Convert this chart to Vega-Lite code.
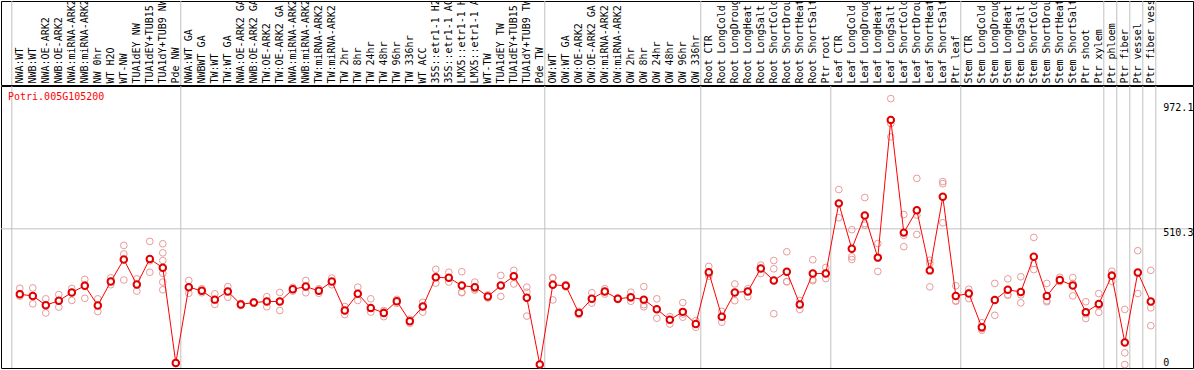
{
  "$schema": "https://vega.github.io/schema/vega-lite/v6.json",
  "background": "white",
  "padding": 0,
  "spacing": -2,
  "config": {"view": {"stroke": "black", "strokeWidth": 1}, "font": "DejaVu Sans Mono"},
  "datasets": {
    "means": [
      {"sample": "NWA:WT", "value": 264}, {"sample": "NWB:WT", "value": 258}, {"sample": "NWA:OE-ARK2", "value": 223}, {"sample": "NWB:OE-ARK2", "value": 240},
      {"sample": "NWA:miRNA-ARK2", "value": 271}, {"sample": "NWB:miRNA-ARK2", "value": 296}, {"sample": "NW 0hr", "value": 222}, {"sample": "WT H2O", "value": 312},
      {"sample": "WT-NW", "value": 395}, {"sample": "TUA1dEY NW", "value": 301}, {"sample": "TUA1dEY+TUB15 NW", "value": 397}, {"sample": "TUA1dY+TUB9 NW", "value": 364},
      {"sample": "Pde NW", "value": 6}, {"sample": "NWA:WT GA", "value": 291}, {"sample": "NWBWT GA", "value": 277}, {"sample": "TW:WT", "value": 244},
      {"sample": "TW:WT GA", "value": 275}, {"sample": "NWA:OE-ARK2 GA", "value": 226}, {"sample": "NWB:OE-ARK2 GA", "value": 233}, {"sample": "TW:OE-ARK2", "value": 237},
      {"sample": "TW:OE-ARK2 GA", "value": 237}, {"sample": "NWA:miRNA-ARK2 GA", "value": 283}, {"sample": "NWB:miRNA-ARK2 GA", "value": 293}, {"sample": "TW:miRNA-ARK2", "value": 277},
      {"sample": "TW:miRNA-ARK2 GA", "value": 312}, {"sample": "TW 2hr", "value": 203}, {"sample": "TW 8hr", "value": 266}, {"sample": "TW 24hr", "value": 213},
      {"sample": "TW 48hr", "value": 194}, {"sample": "TW 96hr", "value": 238}, {"sample": "TW 336hr", "value": 163}, {"sample": "WT ACC", "value": 218},
      {"sample": "35S::etr1-1 H2O", "value": 328}, {"sample": "35S::etr1-1 ACC", "value": 326}, {"sample": "LMX5::etr1-1 H2O", "value": 297}, {"sample": "LMX5::etr1-1 ACC", "value": 291},
      {"sample": "WT-TW", "value": 256}, {"sample": "TUA1dEY TW", "value": 297}, {"sample": "TUA1dEY+TUB15 TW", "value": 332}, {"sample": "TUA1dY+TUB9 TW", "value": 251},
      {"sample": "Pde TW", "value": 0}, {"sample": "OW:WT", "value": 300}, {"sample": "OW:WT GA", "value": 296}, {"sample": "OW:OE-ARK2", "value": 194},
      {"sample": "OW:OE-ARK2 GA", "value": 247}, {"sample": "OW:miRNA-ARK2", "value": 275}, {"sample": "OW:miRNA-ARK2 GA", "value": 247}, {"sample": "OW 2hr", "value": 253},
      {"sample": "OW 8hr", "value": 244}, {"sample": "OW 24hr", "value": 208}, {"sample": "OW 48hr", "value": 168}, {"sample": "OW 96hr", "value": 198},
      {"sample": "OW 336hr", "value": 152}, {"sample": "Root CTR", "value": 347}, {"sample": "Root LongCold", "value": 180}, {"sample": "Root LongDrought", "value": 271},
      {"sample": "Root LongHeat", "value": 275}, {"sample": "Root LongSalt", "value": 361}, {"sample": "Root ShortCold", "value": 316}, {"sample": "Root ShortDrought", "value": 349},
      {"sample": "Root ShortHeat", "value": 226}, {"sample": "Root ShortSalt", "value": 342}, {"sample": "Ptr root", "value": 342}, {"sample": "Leaf CTR", "value": 606},
      {"sample": "Leaf LongCold", "value": 435}, {"sample": "Leaf LongDrought", "value": 560}, {"sample": "Leaf LongHeat", "value": 402}, {"sample": "Leaf LongSalt", "value": 920},
      {"sample": "Leaf ShortCold", "value": 496}, {"sample": "Leaf ShortDrought", "value": 580}, {"sample": "Leaf ShortHeat", "value": 354}, {"sample": "Leaf ShortSalt", "value": 631},
      {"sample": "Ptr leaf", "value": 258}, {"sample": "Stem CTR", "value": 267}, {"sample": "Stem LongCold", "value": 140}, {"sample": "Stem LongDrought", "value": 243},
      {"sample": "Stem LongHeat", "value": 281}, {"sample": "Stem LongSalt", "value": 273}, {"sample": "Stem ShortCold", "value": 405}, {"sample": "Stem ShortDrought", "value": 258},
      {"sample": "Stem ShortHeat", "value": 318}, {"sample": "Stem ShortSalt", "value": 297}, {"sample": "Ptr shoot", "value": 197}, {"sample": "Ptr xylem", "value": 228},
      {"sample": "Ptr phloem", "value": 334}, {"sample": "Ptr fiber", "value": 83}, {"sample": "Ptr vessel", "value": 346}, {"sample": "Ptr fiber vessel", "value": 237}
    ],
    "reps": [
      {"sample": "NWA:WT", "value": 287}, {"sample": "NWA:WT", "value": 267}, {"sample": "NWA:WT", "value": 257},
      {"sample": "NWB:WT", "value": 288}, {"sample": "NWB:WT", "value": 258}, {"sample": "NWB:WT", "value": 228},
      {"sample": "NWA:OE-ARK2", "value": 247}, {"sample": "NWA:OE-ARK2", "value": 223}, {"sample": "NWA:OE-ARK2", "value": 194},
      {"sample": "NWB:OE-ARK2", "value": 263}, {"sample": "NWB:OE-ARK2", "value": 240}, {"sample": "NWB:OE-ARK2", "value": 216},
      {"sample": "NWA:miRNA-ARK2", "value": 286}, {"sample": "NWA:miRNA-ARK2", "value": 271}, {"sample": "NWA:miRNA-ARK2", "value": 241},
      {"sample": "NWB:miRNA-ARK2", "value": 320}, {"sample": "NWB:miRNA-ARK2", "value": 300}, {"sample": "NWB:miRNA-ARK2", "value": 249},
      {"sample": "NW 0hr", "value": 247}, {"sample": "NW 0hr", "value": 222}, {"sample": "NW 0hr", "value": 199},
      {"sample": "WT H2O", "value": 326}, {"sample": "WT H2O", "value": 312}, {"sample": "WT H2O", "value": 300},
      {"sample": "WT-NW", "value": 448}, {"sample": "WT-NW", "value": 416}, {"sample": "WT-NW", "value": 318},
      {"sample": "TUA1dEY NW", "value": 322}, {"sample": "TUA1dEY NW", "value": 301}, {"sample": "TUA1dEY NW", "value": 276},
      {"sample": "TUA1dEY+TUB15 NW", "value": 463}, {"sample": "TUA1dEY+TUB15 NW", "value": 390}, {"sample": "TUA1dEY+TUB15 NW", "value": 347},
      {"sample": "TUA1dY+TUB9 NW", "value": 454}, {"sample": "TUA1dY+TUB9 NW", "value": 420}, {"sample": "TUA1dY+TUB9 NW", "value": 391}, {"sample": "TUA1dY+TUB9 NW", "value": 343}, {"sample": "TUA1dY+TUB9 NW", "value": 310}, {"sample": "TUA1dY+TUB9 NW", "value": 281},
      {"sample": "Pde NW", "value": 8}, {"sample": "Pde NW", "value": 5}, {"sample": "Pde NW", "value": 4},
      {"sample": "NWA:WT GA", "value": 316}, {"sample": "NWA:WT GA", "value": 291}, {"sample": "NWA:WT GA", "value": 268},
      {"sample": "NWBWT GA", "value": 285}, {"sample": "NWBWT GA", "value": 277}, {"sample": "NWBWT GA", "value": 270},
      {"sample": "TW:WT", "value": 266}, {"sample": "TW:WT", "value": 244}, {"sample": "TW:WT", "value": 226},
      {"sample": "TW:WT GA", "value": 293}, {"sample": "TW:WT GA", "value": 275}, {"sample": "TW:WT GA", "value": 253},
      {"sample": "NWA:OE-ARK2 GA", "value": 230}, {"sample": "NWA:OE-ARK2 GA", "value": 226}, {"sample": "NWA:OE-ARK2 GA", "value": 222},
      {"sample": "NWB:OE-ARK2 GA", "value": 236}, {"sample": "NWB:OE-ARK2 GA", "value": 233}, {"sample": "NWB:OE-ARK2 GA", "value": 230},
      {"sample": "TW:OE-ARK2", "value": 255}, {"sample": "TW:OE-ARK2", "value": 237}, {"sample": "TW:OE-ARK2", "value": 217},
      {"sample": "TW:OE-ARK2 GA", "value": 271}, {"sample": "TW:OE-ARK2 GA", "value": 237}, {"sample": "TW:OE-ARK2 GA", "value": 203},
      {"sample": "NWA:miRNA-ARK2 GA", "value": 290}, {"sample": "NWA:miRNA-ARK2 GA", "value": 283}, {"sample": "NWA:miRNA-ARK2 GA", "value": 276},
      {"sample": "NWB:miRNA-ARK2 GA", "value": 316}, {"sample": "NWB:miRNA-ARK2 GA", "value": 293}, {"sample": "NWB:miRNA-ARK2 GA", "value": 270},
      {"sample": "TW:miRNA-ARK2", "value": 285}, {"sample": "TW:miRNA-ARK2", "value": 277}, {"sample": "TW:miRNA-ARK2", "value": 268},
      {"sample": "TW:miRNA-ARK2 GA", "value": 325}, {"sample": "TW:miRNA-ARK2 GA", "value": 312}, {"sample": "TW:miRNA-ARK2 GA", "value": 300},
      {"sample": "TW 2hr", "value": 218}, {"sample": "TW 2hr", "value": 203}, {"sample": "TW 2hr", "value": 188},
      {"sample": "TW 8hr", "value": 291}, {"sample": "TW 8hr", "value": 266}, {"sample": "TW 8hr", "value": 241},
      {"sample": "TW 24hr", "value": 247}, {"sample": "TW 24hr", "value": 210}, {"sample": "TW 24hr", "value": 197},
      {"sample": "TW 48hr", "value": 203}, {"sample": "TW 48hr", "value": 198}, {"sample": "TW 48hr", "value": 180},
      {"sample": "TW 96hr", "value": 245}, {"sample": "TW 96hr", "value": 238}, {"sample": "TW 96hr", "value": 230},
      {"sample": "TW 336hr", "value": 170}, {"sample": "TW 336hr", "value": 163}, {"sample": "TW 336hr", "value": 155},
      {"sample": "WT ACC", "value": 234}, {"sample": "WT ACC", "value": 218}, {"sample": "WT ACC", "value": 197},
      {"sample": "35S::etr1-1 H2O", "value": 358}, {"sample": "35S::etr1-1 H2O", "value": 328}, {"sample": "35S::etr1-1 H2O", "value": 306},
      {"sample": "35S::etr1-1 ACC", "value": 347}, {"sample": "35S::etr1-1 ACC", "value": 326}, {"sample": "35S::etr1-1 ACC", "value": 310},
      {"sample": "LMX5::etr1-1 H2O", "value": 349}, {"sample": "LMX5::etr1-1 H2O", "value": 272}, {"sample": "LMX5::etr1-1 H2O", "value": 270},
      {"sample": "LMX5::etr1-1 ACC", "value": 310}, {"sample": "LMX5::etr1-1 ACC", "value": 285}, {"sample": "LMX5::etr1-1 ACC", "value": 280},
      {"sample": "WT-TW", "value": 262}, {"sample": "WT-TW", "value": 256}, {"sample": "WT-TW", "value": 250},
      {"sample": "TUA1dEY TW", "value": 335}, {"sample": "TUA1dEY TW", "value": 297}, {"sample": "TUA1dEY TW", "value": 256},
      {"sample": "TUA1dEY+TUB15 TW", "value": 354}, {"sample": "TUA1dEY+TUB15 TW", "value": 332}, {"sample": "TUA1dEY+TUB15 TW", "value": 303},
      {"sample": "TUA1dY+TUB9 TW", "value": 291}, {"sample": "TUA1dY+TUB9 TW", "value": 272}, {"sample": "TUA1dY+TUB9 TW", "value": 251}, {"sample": "TUA1dY+TUB9 TW", "value": 182},
      {"sample": "Pde TW", "value": 1}, {"sample": "Pde TW", "value": 0}, {"sample": "Pde TW", "value": 0},
      {"sample": "OW:WT", "value": 327}, {"sample": "OW:WT", "value": 325}, {"sample": "OW:WT", "value": 243},
      {"sample": "OW:WT GA", "value": 300}, {"sample": "OW:WT GA", "value": 296}, {"sample": "OW:WT GA", "value": 292},
      {"sample": "OW:OE-ARK2", "value": 200}, {"sample": "OW:OE-ARK2", "value": 194}, {"sample": "OW:OE-ARK2", "value": 188},
      {"sample": "OW:OE-ARK2 GA", "value": 270}, {"sample": "OW:OE-ARK2 GA", "value": 247}, {"sample": "OW:OE-ARK2 GA", "value": 231},
      {"sample": "OW:miRNA-ARK2", "value": 285}, {"sample": "OW:miRNA-ARK2", "value": 275}, {"sample": "OW:miRNA-ARK2", "value": 265},
      {"sample": "OW:miRNA-ARK2 GA", "value": 250}, {"sample": "OW:miRNA-ARK2 GA", "value": 247}, {"sample": "OW:miRNA-ARK2 GA", "value": 244},
      {"sample": "OW 2hr", "value": 272}, {"sample": "OW 2hr", "value": 250}, {"sample": "OW 2hr", "value": 238},
      {"sample": "OW 8hr", "value": 293}, {"sample": "OW 8hr", "value": 225}, {"sample": "OW 8hr", "value": 217},
      {"sample": "OW 24hr", "value": 247}, {"sample": "OW 24hr", "value": 208}, {"sample": "OW 24hr", "value": 174},
      {"sample": "OW 48hr", "value": 180}, {"sample": "OW 48hr", "value": 168}, {"sample": "OW 48hr", "value": 152},
      {"sample": "OW 96hr", "value": 233}, {"sample": "OW 96hr", "value": 190}, {"sample": "OW 96hr", "value": 178},
      {"sample": "OW 336hr", "value": 165}, {"sample": "OW 336hr", "value": 152}, {"sample": "OW 336hr", "value": 140},
      {"sample": "Root CTR", "value": 369}, {"sample": "Root CTR", "value": 340}, {"sample": "Root CTR", "value": 332},
      {"sample": "Root LongCold", "value": 200}, {"sample": "Root LongCold", "value": 180}, {"sample": "Root LongCold", "value": 159},
      {"sample": "Root LongDrought", "value": 303}, {"sample": "Root LongDrought", "value": 271}, {"sample": "Root LongDrought", "value": 240},
      {"sample": "Root LongHeat", "value": 285}, {"sample": "Root LongHeat", "value": 275}, {"sample": "Root LongHeat", "value": 255},
      {"sample": "Root LongSalt", "value": 374}, {"sample": "Root LongSalt", "value": 361}, {"sample": "Root LongSalt", "value": 342},
      {"sample": "Root ShortCold", "value": 391}, {"sample": "Root ShortCold", "value": 360}, {"sample": "Root ShortCold", "value": 191},
      {"sample": "Root ShortDrought", "value": 424}, {"sample": "Root ShortDrought", "value": 312}, {"sample": "Root ShortDrought", "value": 311},
      {"sample": "Root ShortHeat", "value": 241}, {"sample": "Root ShortHeat", "value": 226}, {"sample": "Root ShortHeat", "value": 207},
      {"sample": "Root ShortSalt", "value": 394}, {"sample": "Root ShortSalt", "value": 320}, {"sample": "Root ShortSalt", "value": 315},
      {"sample": "Ptr root", "value": 365}, {"sample": "Ptr root", "value": 342}, {"sample": "Ptr root", "value": 323},
      {"sample": "Leaf CTR", "value": 658}, {"sample": "Leaf CTR", "value": 606}, {"sample": "Leaf CTR", "value": 552},
      {"sample": "Leaf LongCold", "value": 507}, {"sample": "Leaf LongCold", "value": 405}, {"sample": "Leaf LongCold", "value": 395},
      {"sample": "Leaf LongDrought", "value": 628}, {"sample": "Leaf LongDrought", "value": 530}, {"sample": "Leaf LongDrought", "value": 524},
      {"sample": "Leaf LongHeat", "value": 455}, {"sample": "Leaf LongHeat", "value": 400}, {"sample": "Leaf LongHeat", "value": 350},
      {"sample": "Leaf LongSalt", "value": 1000}, {"sample": "Leaf LongSalt", "value": 906}, {"sample": "Leaf LongSalt", "value": 856},
      {"sample": "Leaf ShortCold", "value": 564}, {"sample": "Leaf ShortCold", "value": 486}, {"sample": "Leaf ShortCold", "value": 443},
      {"sample": "Leaf ShortDrought", "value": 700}, {"sample": "Leaf ShortDrought", "value": 562}, {"sample": "Leaf ShortDrought", "value": 489},
      {"sample": "Leaf ShortHeat", "value": 392}, {"sample": "Leaf ShortHeat", "value": 380}, {"sample": "Leaf ShortHeat", "value": 292},
      {"sample": "Leaf ShortSalt", "value": 688}, {"sample": "Leaf ShortSalt", "value": 680}, {"sample": "Leaf ShortSalt", "value": 533},
      {"sample": "Ptr leaf", "value": 296}, {"sample": "Ptr leaf", "value": 240}, {"sample": "Ptr leaf", "value": 238},
      {"sample": "Stem CTR", "value": 283}, {"sample": "Stem CTR", "value": 270}, {"sample": "Stem CTR", "value": 248},
      {"sample": "Stem LongCold", "value": 157}, {"sample": "Stem LongCold", "value": 135}, {"sample": "Stem LongCold", "value": 129},
      {"sample": "Stem LongDrought", "value": 305}, {"sample": "Stem LongDrought", "value": 243}, {"sample": "Stem LongDrought", "value": 185},
      {"sample": "Stem LongHeat", "value": 322}, {"sample": "Stem LongHeat", "value": 262}, {"sample": "Stem LongHeat", "value": 261},
      {"sample": "Stem LongSalt", "value": 330}, {"sample": "Stem LongSalt", "value": 262}, {"sample": "Stem LongSalt", "value": 232},
      {"sample": "Stem ShortCold", "value": 478}, {"sample": "Stem ShortCold", "value": 380}, {"sample": "Stem ShortCold", "value": 357},
      {"sample": "Stem ShortDrought", "value": 305}, {"sample": "Stem ShortDrought", "value": 240}, {"sample": "Stem ShortDrought", "value": 236},
      {"sample": "Stem ShortHeat", "value": 328}, {"sample": "Stem ShortHeat", "value": 318}, {"sample": "Stem ShortHeat", "value": 312},
      {"sample": "Stem ShortSalt", "value": 327}, {"sample": "Stem ShortSalt", "value": 305}, {"sample": "Stem ShortSalt", "value": 258},
      {"sample": "Ptr shoot", "value": 236}, {"sample": "Ptr shoot", "value": 190}, {"sample": "Ptr shoot", "value": 173},
      {"sample": "Ptr xylem", "value": 267}, {"sample": "Ptr xylem", "value": 221}, {"sample": "Ptr xylem", "value": 196},
      {"sample": "Ptr phloem", "value": 351}, {"sample": "Ptr phloem", "value": 338}, {"sample": "Ptr phloem", "value": 313},
      {"sample": "Ptr fiber", "value": 207}, {"sample": "Ptr fiber", "value": 44}, {"sample": "Ptr fiber", "value": 0},
      {"sample": "Ptr vessel", "value": 428}, {"sample": "Ptr vessel", "value": 343}, {"sample": "Ptr vessel", "value": 267},
      {"sample": "Ptr fiber vessel", "value": 354}, {"sample": "Ptr fiber vessel", "value": 213}, {"sample": "Ptr fiber vessel", "value": 146}
    ],
    "seps": [
      {"sample": "NWA:WT", "header": true}, {"sample": "NWA:WT GA", "header": true}, {"sample": "OW:WT", "header": true},
      {"sample": "Root CTR", "header": true}, {"sample": "Leaf CTR", "header": false}, {"sample": "Stem CTR", "header": true},
      {"sample": "Ptr phloem", "header": true}, {"sample": "Ptr fiber", "header": true}, {"sample": "Ptr vessel", "header": true},
      {"sample": "Ptr fiber vessel", "header": true}
    ],
    "ticks": [{"value": 0, "label": "0"}, {"value": 510.3, "label": "510.3"}, {"value": 972.1, "label": "972.1"}]
  },
  "vconcat": [
    {
      "width": 1192,
      "height": 84,
      "layer": [
        {
          "data": {"name": "seps"},
          "transform": [{"filter": "datum.header"}],
          "mark": {"type": "rule", "color": "#c0c0c0", "strokeWidth": 1, "xOffset": -1.5},
          "encoding": {"x": {"field": "sample", "type": "nominal", "bandPosition": 0, "axis": null,
            "scale": {"type": "band", "paddingInner": 0, "paddingOuter": 0, "range": [12.3, 1156.3], "domain": ["NWA:WT","NWB:WT","NWA:OE-ARK2","NWB:OE-ARK2","NWA:miRNA-ARK2","NWB:miRNA-ARK2","NW 0hr","WT H2O","WT-NW","TUA1dEY NW","TUA1dEY+TUB15 NW","TUA1dY+TUB9 NW","Pde NW","NWA:WT GA","NWBWT GA","TW:WT","TW:WT GA","NWA:OE-ARK2 GA","NWB:OE-ARK2 GA","TW:OE-ARK2","TW:OE-ARK2 GA","NWA:miRNA-ARK2 GA","NWB:miRNA-ARK2 GA","TW:miRNA-ARK2","TW:miRNA-ARK2 GA","TW 2hr","TW 8hr","TW 24hr","TW 48hr","TW 96hr","TW 336hr","WT ACC","35S::etr1-1 H2O","35S::etr1-1 ACC","LMX5::etr1-1 H2O","LMX5::etr1-1 ACC","WT-TW","TUA1dEY TW","TUA1dEY+TUB15 TW","TUA1dY+TUB9 TW","Pde TW","OW:WT","OW:WT GA","OW:OE-ARK2","OW:OE-ARK2 GA","OW:miRNA-ARK2","OW:miRNA-ARK2 GA","OW 2hr","OW 8hr","OW 24hr","OW 48hr","OW 96hr","OW 336hr","Root CTR","Root LongCold","Root LongDrought","Root LongHeat","Root LongSalt","Root ShortCold","Root ShortDrought","Root ShortHeat","Root ShortSalt","Ptr root","Leaf CTR","Leaf LongCold","Leaf LongDrought","Leaf LongHeat","Leaf LongSalt","Leaf ShortCold","Leaf ShortDrought","Leaf ShortHeat","Leaf ShortSalt","Ptr leaf","Stem CTR","Stem LongCold","Stem LongDrought","Stem LongHeat","Stem LongSalt","Stem ShortCold","Stem ShortDrought","Stem ShortHeat","Stem ShortSalt","Ptr shoot","Ptr xylem","Ptr phloem","Ptr fiber","Ptr vessel","Ptr fiber vessel"]}}}
        },
        {
          "data": {"values": [{"sample": "Ptr fiber vessel"}]},
          "mark": {"type": "rule", "color": "#c0c0c0", "strokeWidth": 1, "xOffset": -1.5},
          "encoding": {"x": {"field": "sample", "type": "nominal", "bandPosition": 1, "axis": null,
            "scale": {"type": "band", "paddingInner": 0, "paddingOuter": 0, "range": [12.3, 1156.3], "domain": ["NWA:WT","NWB:WT","NWA:OE-ARK2","NWB:OE-ARK2","NWA:miRNA-ARK2","NWB:miRNA-ARK2","NW 0hr","WT H2O","WT-NW","TUA1dEY NW","TUA1dEY+TUB15 NW","TUA1dY+TUB9 NW","Pde NW","NWA:WT GA","NWBWT GA","TW:WT","TW:WT GA","NWA:OE-ARK2 GA","NWB:OE-ARK2 GA","TW:OE-ARK2","TW:OE-ARK2 GA","NWA:miRNA-ARK2 GA","NWB:miRNA-ARK2 GA","TW:miRNA-ARK2","TW:miRNA-ARK2 GA","TW 2hr","TW 8hr","TW 24hr","TW 48hr","TW 96hr","TW 336hr","WT ACC","35S::etr1-1 H2O","35S::etr1-1 ACC","LMX5::etr1-1 H2O","LMX5::etr1-1 ACC","WT-TW","TUA1dEY TW","TUA1dEY+TUB15 TW","TUA1dY+TUB9 TW","Pde TW","OW:WT","OW:WT GA","OW:OE-ARK2","OW:OE-ARK2 GA","OW:miRNA-ARK2","OW:miRNA-ARK2 GA","OW 2hr","OW 8hr","OW 24hr","OW 48hr","OW 96hr","OW 336hr","Root CTR","Root LongCold","Root LongDrought","Root LongHeat","Root LongSalt","Root ShortCold","Root ShortDrought","Root ShortHeat","Root ShortSalt","Ptr root","Leaf CTR","Leaf LongCold","Leaf LongDrought","Leaf LongHeat","Leaf LongSalt","Leaf ShortCold","Leaf ShortDrought","Leaf ShortHeat","Leaf ShortSalt","Ptr leaf","Stem CTR","Stem LongCold","Stem LongDrought","Stem LongHeat","Stem LongSalt","Stem ShortCold","Stem ShortDrought","Stem ShortHeat","Stem ShortSalt","Ptr shoot","Ptr xylem","Ptr phloem","Ptr fiber","Ptr vessel","Ptr fiber vessel"]}}}
        },
        {
          "data": {"name": "means"},
          "mark": {"type": "text", "angle": 270, "align": "left", "baseline": "middle", "dx": -40.5, "font": "DejaVu Sans Mono", "fontSize": 10, "color": "black", "clip": true},
          "encoding": {
            "x": {"field": "sample", "type": "nominal", "axis": null,
              "scale": {"type": "band", "paddingInner": 0, "paddingOuter": 0, "range": [12.3, 1156.3], "domain": ["NWA:WT","NWB:WT","NWA:OE-ARK2","NWB:OE-ARK2","NWA:miRNA-ARK2","NWB:miRNA-ARK2","NW 0hr","WT H2O","WT-NW","TUA1dEY NW","TUA1dEY+TUB15 NW","TUA1dY+TUB9 NW","Pde NW","NWA:WT GA","NWBWT GA","TW:WT","TW:WT GA","NWA:OE-ARK2 GA","NWB:OE-ARK2 GA","TW:OE-ARK2","TW:OE-ARK2 GA","NWA:miRNA-ARK2 GA","NWB:miRNA-ARK2 GA","TW:miRNA-ARK2","TW:miRNA-ARK2 GA","TW 2hr","TW 8hr","TW 24hr","TW 48hr","TW 96hr","TW 336hr","WT ACC","35S::etr1-1 H2O","35S::etr1-1 ACC","LMX5::etr1-1 H2O","LMX5::etr1-1 ACC","WT-TW","TUA1dEY TW","TUA1dEY+TUB15 TW","TUA1dY+TUB9 TW","Pde TW","OW:WT","OW:WT GA","OW:OE-ARK2","OW:OE-ARK2 GA","OW:miRNA-ARK2","OW:miRNA-ARK2 GA","OW 2hr","OW 8hr","OW 24hr","OW 48hr","OW 96hr","OW 336hr","Root CTR","Root LongCold","Root LongDrought","Root LongHeat","Root LongSalt","Root ShortCold","Root ShortDrought","Root ShortHeat","Root ShortSalt","Ptr root","Leaf CTR","Leaf LongCold","Leaf LongDrought","Leaf LongHeat","Leaf LongSalt","Leaf ShortCold","Leaf ShortDrought","Leaf ShortHeat","Leaf ShortSalt","Ptr leaf","Stem CTR","Stem LongCold","Stem LongDrought","Stem LongHeat","Stem LongSalt","Stem ShortCold","Stem ShortDrought","Stem ShortHeat","Stem ShortSalt","Ptr shoot","Ptr xylem","Ptr phloem","Ptr fiber","Ptr vessel","Ptr fiber vessel"]}},
            "text": {"field": "sample", "type": "nominal"}
          }
        }
      ]
    },
    {
      "width": 1192,
      "height": 282,
      "title": {"text": "Potri.005G105200", "anchor": "start", "frame": "group", "offset": -16, "dx": 7, "color": "#ff0000", "font": "DejaVu Sans Mono", "fontSize": 10, "fontWeight": "normal"},
      "layer": [
        {
          "data": {"name": "seps"},
          "mark": {"type": "rule", "color": "#c0c0c0", "strokeWidth": 1, "xOffset": -1.5},
          "encoding": {"x": {"field": "sample", "type": "nominal", "bandPosition": 0, "axis": null,
            "scale": {"type": "band", "paddingInner": 0, "paddingOuter": 0, "range": [12.3, 1156.3], "domain": ["NWA:WT","NWB:WT","NWA:OE-ARK2","NWB:OE-ARK2","NWA:miRNA-ARK2","NWB:miRNA-ARK2","NW 0hr","WT H2O","WT-NW","TUA1dEY NW","TUA1dEY+TUB15 NW","TUA1dY+TUB9 NW","Pde NW","NWA:WT GA","NWBWT GA","TW:WT","TW:WT GA","NWA:OE-ARK2 GA","NWB:OE-ARK2 GA","TW:OE-ARK2","TW:OE-ARK2 GA","NWA:miRNA-ARK2 GA","NWB:miRNA-ARK2 GA","TW:miRNA-ARK2","TW:miRNA-ARK2 GA","TW 2hr","TW 8hr","TW 24hr","TW 48hr","TW 96hr","TW 336hr","WT ACC","35S::etr1-1 H2O","35S::etr1-1 ACC","LMX5::etr1-1 H2O","LMX5::etr1-1 ACC","WT-TW","TUA1dEY TW","TUA1dEY+TUB15 TW","TUA1dY+TUB9 TW","Pde TW","OW:WT","OW:WT GA","OW:OE-ARK2","OW:OE-ARK2 GA","OW:miRNA-ARK2","OW:miRNA-ARK2 GA","OW 2hr","OW 8hr","OW 24hr","OW 48hr","OW 96hr","OW 336hr","Root CTR","Root LongCold","Root LongDrought","Root LongHeat","Root LongSalt","Root ShortCold","Root ShortDrought","Root ShortHeat","Root ShortSalt","Ptr root","Leaf CTR","Leaf LongCold","Leaf LongDrought","Leaf LongHeat","Leaf LongSalt","Leaf ShortCold","Leaf ShortDrought","Leaf ShortHeat","Leaf ShortSalt","Ptr leaf","Stem CTR","Stem LongCold","Stem LongDrought","Stem LongHeat","Stem LongSalt","Stem ShortCold","Stem ShortDrought","Stem ShortHeat","Stem ShortSalt","Ptr shoot","Ptr xylem","Ptr phloem","Ptr fiber","Ptr vessel","Ptr fiber vessel"]}}}
        },
        {
          "data": {"values": [{"sample": "Ptr fiber vessel"}]},
          "mark": {"type": "rule", "color": "#c0c0c0", "strokeWidth": 1, "xOffset": -1.5},
          "encoding": {"x": {"field": "sample", "type": "nominal", "bandPosition": 1, "axis": null,
            "scale": {"type": "band", "paddingInner": 0, "paddingOuter": 0, "range": [12.3, 1156.3], "domain": ["NWA:WT","NWB:WT","NWA:OE-ARK2","NWB:OE-ARK2","NWA:miRNA-ARK2","NWB:miRNA-ARK2","NW 0hr","WT H2O","WT-NW","TUA1dEY NW","TUA1dEY+TUB15 NW","TUA1dY+TUB9 NW","Pde NW","NWA:WT GA","NWBWT GA","TW:WT","TW:WT GA","NWA:OE-ARK2 GA","NWB:OE-ARK2 GA","TW:OE-ARK2","TW:OE-ARK2 GA","NWA:miRNA-ARK2 GA","NWB:miRNA-ARK2 GA","TW:miRNA-ARK2","TW:miRNA-ARK2 GA","TW 2hr","TW 8hr","TW 24hr","TW 48hr","TW 96hr","TW 336hr","WT ACC","35S::etr1-1 H2O","35S::etr1-1 ACC","LMX5::etr1-1 H2O","LMX5::etr1-1 ACC","WT-TW","TUA1dEY TW","TUA1dEY+TUB15 TW","TUA1dY+TUB9 TW","Pde TW","OW:WT","OW:WT GA","OW:OE-ARK2","OW:OE-ARK2 GA","OW:miRNA-ARK2","OW:miRNA-ARK2 GA","OW 2hr","OW 8hr","OW 24hr","OW 48hr","OW 96hr","OW 336hr","Root CTR","Root LongCold","Root LongDrought","Root LongHeat","Root LongSalt","Root ShortCold","Root ShortDrought","Root ShortHeat","Root ShortSalt","Ptr root","Leaf CTR","Leaf LongCold","Leaf LongDrought","Leaf LongHeat","Leaf LongSalt","Leaf ShortCold","Leaf ShortDrought","Leaf ShortHeat","Leaf ShortSalt","Ptr leaf","Stem CTR","Stem LongCold","Stem LongDrought","Stem LongHeat","Stem LongSalt","Stem ShortCold","Stem ShortDrought","Stem ShortHeat","Stem ShortSalt","Ptr shoot","Ptr xylem","Ptr phloem","Ptr fiber","Ptr vessel","Ptr fiber vessel"]}}}
        },
        {
          "data": {"values": [{"value": 510.3}]},
          "mark": {"type": "rule", "color": "#c0c0c0", "strokeWidth": 1},
          "encoding": {"y": {"field": "value", "type": "quantitative", "axis": null,
            "scale": {"domain": [-13.1, 1047.4], "nice": false, "zero": false}}}
        },
        {
          "data": {"name": "ticks"},
          "transform": [{"filter": "datum.value > 900"}],
          "mark": {"type": "text", "align": "left", "baseline": "middle", "dx": 6, "dy": 2, "font": "DejaVu Sans Mono", "fontSize": 10, "color": "black"},
          "encoding": {
            "x": {"datum": "Ptr fiber vessel", "type": "nominal", "bandPosition": 1, "axis": null,
              "scale": {"type": "band", "paddingInner": 0, "paddingOuter": 0, "range": [12.3, 1156.3], "domain": ["NWA:WT","NWB:WT","NWA:OE-ARK2","NWB:OE-ARK2","NWA:miRNA-ARK2","NWB:miRNA-ARK2","NW 0hr","WT H2O","WT-NW","TUA1dEY NW","TUA1dEY+TUB15 NW","TUA1dY+TUB9 NW","Pde NW","NWA:WT GA","NWBWT GA","TW:WT","TW:WT GA","NWA:OE-ARK2 GA","NWB:OE-ARK2 GA","TW:OE-ARK2","TW:OE-ARK2 GA","NWA:miRNA-ARK2 GA","NWB:miRNA-ARK2 GA","TW:miRNA-ARK2","TW:miRNA-ARK2 GA","TW 2hr","TW 8hr","TW 24hr","TW 48hr","TW 96hr","TW 336hr","WT ACC","35S::etr1-1 H2O","35S::etr1-1 ACC","LMX5::etr1-1 H2O","LMX5::etr1-1 ACC","WT-TW","TUA1dEY TW","TUA1dEY+TUB15 TW","TUA1dY+TUB9 TW","Pde TW","OW:WT","OW:WT GA","OW:OE-ARK2","OW:OE-ARK2 GA","OW:miRNA-ARK2","OW:miRNA-ARK2 GA","OW 2hr","OW 8hr","OW 24hr","OW 48hr","OW 96hr","OW 336hr","Root CTR","Root LongCold","Root LongDrought","Root LongHeat","Root LongSalt","Root ShortCold","Root ShortDrought","Root ShortHeat","Root ShortSalt","Ptr root","Leaf CTR","Leaf LongCold","Leaf LongDrought","Leaf LongHeat","Leaf LongSalt","Leaf ShortCold","Leaf ShortDrought","Leaf ShortHeat","Leaf ShortSalt","Ptr leaf","Stem CTR","Stem LongCold","Stem LongDrought","Stem LongHeat","Stem LongSalt","Stem ShortCold","Stem ShortDrought","Stem ShortHeat","Stem ShortSalt","Ptr shoot","Ptr xylem","Ptr phloem","Ptr fiber","Ptr vessel","Ptr fiber vessel"]}},
            "y": {"field": "value", "type": "quantitative", "axis": null, "scale": {"domain": [-13.1, 1047.4], "nice": false, "zero": false}},
            "text": {"field": "label", "type": "nominal"}
          }
        },
        {
          "data": {"name": "ticks"},
          "transform": [{"filter": "datum.value > 0 && datum.value < 900"}],
          "mark": {"type": "text", "align": "left", "baseline": "middle", "dx": 6, "dy": 4, "font": "DejaVu Sans Mono", "fontSize": 10, "color": "black"},
          "encoding": {
            "x": {"datum": "Ptr fiber vessel", "type": "nominal", "bandPosition": 1, "axis": null,
              "scale": {"type": "band", "paddingInner": 0, "paddingOuter": 0, "range": [12.3, 1156.3], "domain": ["NWA:WT","NWB:WT","NWA:OE-ARK2","NWB:OE-ARK2","NWA:miRNA-ARK2","NWB:miRNA-ARK2","NW 0hr","WT H2O","WT-NW","TUA1dEY NW","TUA1dEY+TUB15 NW","TUA1dY+TUB9 NW","Pde NW","NWA:WT GA","NWBWT GA","TW:WT","TW:WT GA","NWA:OE-ARK2 GA","NWB:OE-ARK2 GA","TW:OE-ARK2","TW:OE-ARK2 GA","NWA:miRNA-ARK2 GA","NWB:miRNA-ARK2 GA","TW:miRNA-ARK2","TW:miRNA-ARK2 GA","TW 2hr","TW 8hr","TW 24hr","TW 48hr","TW 96hr","TW 336hr","WT ACC","35S::etr1-1 H2O","35S::etr1-1 ACC","LMX5::etr1-1 H2O","LMX5::etr1-1 ACC","WT-TW","TUA1dEY TW","TUA1dEY+TUB15 TW","TUA1dY+TUB9 TW","Pde TW","OW:WT","OW:WT GA","OW:OE-ARK2","OW:OE-ARK2 GA","OW:miRNA-ARK2","OW:miRNA-ARK2 GA","OW 2hr","OW 8hr","OW 24hr","OW 48hr","OW 96hr","OW 336hr","Root CTR","Root LongCold","Root LongDrought","Root LongHeat","Root LongSalt","Root ShortCold","Root ShortDrought","Root ShortHeat","Root ShortSalt","Ptr root","Leaf CTR","Leaf LongCold","Leaf LongDrought","Leaf LongHeat","Leaf LongSalt","Leaf ShortCold","Leaf ShortDrought","Leaf ShortHeat","Leaf ShortSalt","Ptr leaf","Stem CTR","Stem LongCold","Stem LongDrought","Stem LongHeat","Stem LongSalt","Stem ShortCold","Stem ShortDrought","Stem ShortHeat","Stem ShortSalt","Ptr shoot","Ptr xylem","Ptr phloem","Ptr fiber","Ptr vessel","Ptr fiber vessel"]}},
            "y": {"field": "value", "type": "quantitative", "axis": null, "scale": {"domain": [-13.1, 1047.4], "nice": false, "zero": false}},
            "text": {"field": "label", "type": "nominal"}
          }
        },
        {
          "data": {"name": "ticks"},
          "transform": [{"filter": "datum.value == 0"}],
          "mark": {"type": "text", "align": "left", "baseline": "middle", "dx": 6, "dy": -2, "font": "DejaVu Sans Mono", "fontSize": 10, "color": "black"},
          "encoding": {
            "x": {"datum": "Ptr fiber vessel", "type": "nominal", "bandPosition": 1, "axis": null,
              "scale": {"type": "band", "paddingInner": 0, "paddingOuter": 0, "range": [12.3, 1156.3], "domain": ["NWA:WT","NWB:WT","NWA:OE-ARK2","NWB:OE-ARK2","NWA:miRNA-ARK2","NWB:miRNA-ARK2","NW 0hr","WT H2O","WT-NW","TUA1dEY NW","TUA1dEY+TUB15 NW","TUA1dY+TUB9 NW","Pde NW","NWA:WT GA","NWBWT GA","TW:WT","TW:WT GA","NWA:OE-ARK2 GA","NWB:OE-ARK2 GA","TW:OE-ARK2","TW:OE-ARK2 GA","NWA:miRNA-ARK2 GA","NWB:miRNA-ARK2 GA","TW:miRNA-ARK2","TW:miRNA-ARK2 GA","TW 2hr","TW 8hr","TW 24hr","TW 48hr","TW 96hr","TW 336hr","WT ACC","35S::etr1-1 H2O","35S::etr1-1 ACC","LMX5::etr1-1 H2O","LMX5::etr1-1 ACC","WT-TW","TUA1dEY TW","TUA1dEY+TUB15 TW","TUA1dY+TUB9 TW","Pde TW","OW:WT","OW:WT GA","OW:OE-ARK2","OW:OE-ARK2 GA","OW:miRNA-ARK2","OW:miRNA-ARK2 GA","OW 2hr","OW 8hr","OW 24hr","OW 48hr","OW 96hr","OW 336hr","Root CTR","Root LongCold","Root LongDrought","Root LongHeat","Root LongSalt","Root ShortCold","Root ShortDrought","Root ShortHeat","Root ShortSalt","Ptr root","Leaf CTR","Leaf LongCold","Leaf LongDrought","Leaf LongHeat","Leaf LongSalt","Leaf ShortCold","Leaf ShortDrought","Leaf ShortHeat","Leaf ShortSalt","Ptr leaf","Stem CTR","Stem LongCold","Stem LongDrought","Stem LongHeat","Stem LongSalt","Stem ShortCold","Stem ShortDrought","Stem ShortHeat","Stem ShortSalt","Ptr shoot","Ptr xylem","Ptr phloem","Ptr fiber","Ptr vessel","Ptr fiber vessel"]}},
            "y": {"field": "value", "type": "quantitative", "axis": null, "scale": {"domain": [-13.1, 1047.4], "nice": false, "zero": false}},
            "text": {"field": "label", "type": "nominal"}
          }
        },
        {
          "data": {"name": "reps"},
          "mark": {"type": "point", "shape": "circle", "filled": false, "stroke": "#e89a9a", "strokeWidth": 1, "size": 45, "opacity": 1},
          "encoding": {
            "x": {"field": "sample", "type": "nominal", "axis": null,
              "scale": {"type": "band", "paddingInner": 0, "paddingOuter": 0, "range": [12.3, 1156.3], "domain": ["NWA:WT","NWB:WT","NWA:OE-ARK2","NWB:OE-ARK2","NWA:miRNA-ARK2","NWB:miRNA-ARK2","NW 0hr","WT H2O","WT-NW","TUA1dEY NW","TUA1dEY+TUB15 NW","TUA1dY+TUB9 NW","Pde NW","NWA:WT GA","NWBWT GA","TW:WT","TW:WT GA","NWA:OE-ARK2 GA","NWB:OE-ARK2 GA","TW:OE-ARK2","TW:OE-ARK2 GA","NWA:miRNA-ARK2 GA","NWB:miRNA-ARK2 GA","TW:miRNA-ARK2","TW:miRNA-ARK2 GA","TW 2hr","TW 8hr","TW 24hr","TW 48hr","TW 96hr","TW 336hr","WT ACC","35S::etr1-1 H2O","35S::etr1-1 ACC","LMX5::etr1-1 H2O","LMX5::etr1-1 ACC","WT-TW","TUA1dEY TW","TUA1dEY+TUB15 TW","TUA1dY+TUB9 TW","Pde TW","OW:WT","OW:WT GA","OW:OE-ARK2","OW:OE-ARK2 GA","OW:miRNA-ARK2","OW:miRNA-ARK2 GA","OW 2hr","OW 8hr","OW 24hr","OW 48hr","OW 96hr","OW 336hr","Root CTR","Root LongCold","Root LongDrought","Root LongHeat","Root LongSalt","Root ShortCold","Root ShortDrought","Root ShortHeat","Root ShortSalt","Ptr root","Leaf CTR","Leaf LongCold","Leaf LongDrought","Leaf LongHeat","Leaf LongSalt","Leaf ShortCold","Leaf ShortDrought","Leaf ShortHeat","Leaf ShortSalt","Ptr leaf","Stem CTR","Stem LongCold","Stem LongDrought","Stem LongHeat","Stem LongSalt","Stem ShortCold","Stem ShortDrought","Stem ShortHeat","Stem ShortSalt","Ptr shoot","Ptr xylem","Ptr phloem","Ptr fiber","Ptr vessel","Ptr fiber vessel"]}},
            "y": {"field": "value", "type": "quantitative", "axis": null, "scale": {"domain": [-13.1, 1047.4], "nice": false, "zero": false}}
          }
        },
        {
          "data": {"name": "means"},
          "mark": {"type": "line", "color": "#ff0000", "strokeWidth": 1},
          "encoding": {
            "x": {"field": "sample", "type": "nominal", "axis": null,
              "scale": {"type": "band", "paddingInner": 0, "paddingOuter": 0, "range": [12.3, 1156.3], "domain": ["NWA:WT","NWB:WT","NWA:OE-ARK2","NWB:OE-ARK2","NWA:miRNA-ARK2","NWB:miRNA-ARK2","NW 0hr","WT H2O","WT-NW","TUA1dEY NW","TUA1dEY+TUB15 NW","TUA1dY+TUB9 NW","Pde NW","NWA:WT GA","NWBWT GA","TW:WT","TW:WT GA","NWA:OE-ARK2 GA","NWB:OE-ARK2 GA","TW:OE-ARK2","TW:OE-ARK2 GA","NWA:miRNA-ARK2 GA","NWB:miRNA-ARK2 GA","TW:miRNA-ARK2","TW:miRNA-ARK2 GA","TW 2hr","TW 8hr","TW 24hr","TW 48hr","TW 96hr","TW 336hr","WT ACC","35S::etr1-1 H2O","35S::etr1-1 ACC","LMX5::etr1-1 H2O","LMX5::etr1-1 ACC","WT-TW","TUA1dEY TW","TUA1dEY+TUB15 TW","TUA1dY+TUB9 TW","Pde TW","OW:WT","OW:WT GA","OW:OE-ARK2","OW:OE-ARK2 GA","OW:miRNA-ARK2","OW:miRNA-ARK2 GA","OW 2hr","OW 8hr","OW 24hr","OW 48hr","OW 96hr","OW 336hr","Root CTR","Root LongCold","Root LongDrought","Root LongHeat","Root LongSalt","Root ShortCold","Root ShortDrought","Root ShortHeat","Root ShortSalt","Ptr root","Leaf CTR","Leaf LongCold","Leaf LongDrought","Leaf LongHeat","Leaf LongSalt","Leaf ShortCold","Leaf ShortDrought","Leaf ShortHeat","Leaf ShortSalt","Ptr leaf","Stem CTR","Stem LongCold","Stem LongDrought","Stem LongHeat","Stem LongSalt","Stem ShortCold","Stem ShortDrought","Stem ShortHeat","Stem ShortSalt","Ptr shoot","Ptr xylem","Ptr phloem","Ptr fiber","Ptr vessel","Ptr fiber vessel"]}},
            "y": {"field": "value", "type": "quantitative", "axis": null, "scale": {"domain": [-13.1, 1047.4], "nice": false, "zero": false}},
            "order": {"value": null}
          }
        },
        {
          "data": {"name": "means"},
          "mark": {"type": "point", "shape": "circle", "filled": false, "fill": "white", "fillOpacity": 1, "stroke": "#e00000", "strokeWidth": 2, "size": 42, "opacity": 1},
          "encoding": {
            "x": {"field": "sample", "type": "nominal", "axis": null,
              "scale": {"type": "band", "paddingInner": 0, "paddingOuter": 0, "range": [12.3, 1156.3], "domain": ["NWA:WT","NWB:WT","NWA:OE-ARK2","NWB:OE-ARK2","NWA:miRNA-ARK2","NWB:miRNA-ARK2","NW 0hr","WT H2O","WT-NW","TUA1dEY NW","TUA1dEY+TUB15 NW","TUA1dY+TUB9 NW","Pde NW","NWA:WT GA","NWBWT GA","TW:WT","TW:WT GA","NWA:OE-ARK2 GA","NWB:OE-ARK2 GA","TW:OE-ARK2","TW:OE-ARK2 GA","NWA:miRNA-ARK2 GA","NWB:miRNA-ARK2 GA","TW:miRNA-ARK2","TW:miRNA-ARK2 GA","TW 2hr","TW 8hr","TW 24hr","TW 48hr","TW 96hr","TW 336hr","WT ACC","35S::etr1-1 H2O","35S::etr1-1 ACC","LMX5::etr1-1 H2O","LMX5::etr1-1 ACC","WT-TW","TUA1dEY TW","TUA1dEY+TUB15 TW","TUA1dY+TUB9 TW","Pde TW","OW:WT","OW:WT GA","OW:OE-ARK2","OW:OE-ARK2 GA","OW:miRNA-ARK2","OW:miRNA-ARK2 GA","OW 2hr","OW 8hr","OW 24hr","OW 48hr","OW 96hr","OW 336hr","Root CTR","Root LongCold","Root LongDrought","Root LongHeat","Root LongSalt","Root ShortCold","Root ShortDrought","Root ShortHeat","Root ShortSalt","Ptr root","Leaf CTR","Leaf LongCold","Leaf LongDrought","Leaf LongHeat","Leaf LongSalt","Leaf ShortCold","Leaf ShortDrought","Leaf ShortHeat","Leaf ShortSalt","Ptr leaf","Stem CTR","Stem LongCold","Stem LongDrought","Stem LongHeat","Stem LongSalt","Stem ShortCold","Stem ShortDrought","Stem ShortHeat","Stem ShortSalt","Ptr shoot","Ptr xylem","Ptr phloem","Ptr fiber","Ptr vessel","Ptr fiber vessel"]}},
            "y": {"field": "value", "type": "quantitative", "axis": null, "scale": {"domain": [-13.1, 1047.4], "nice": false, "zero": false}}
          }
        }
      ]
    }
  ]
}
